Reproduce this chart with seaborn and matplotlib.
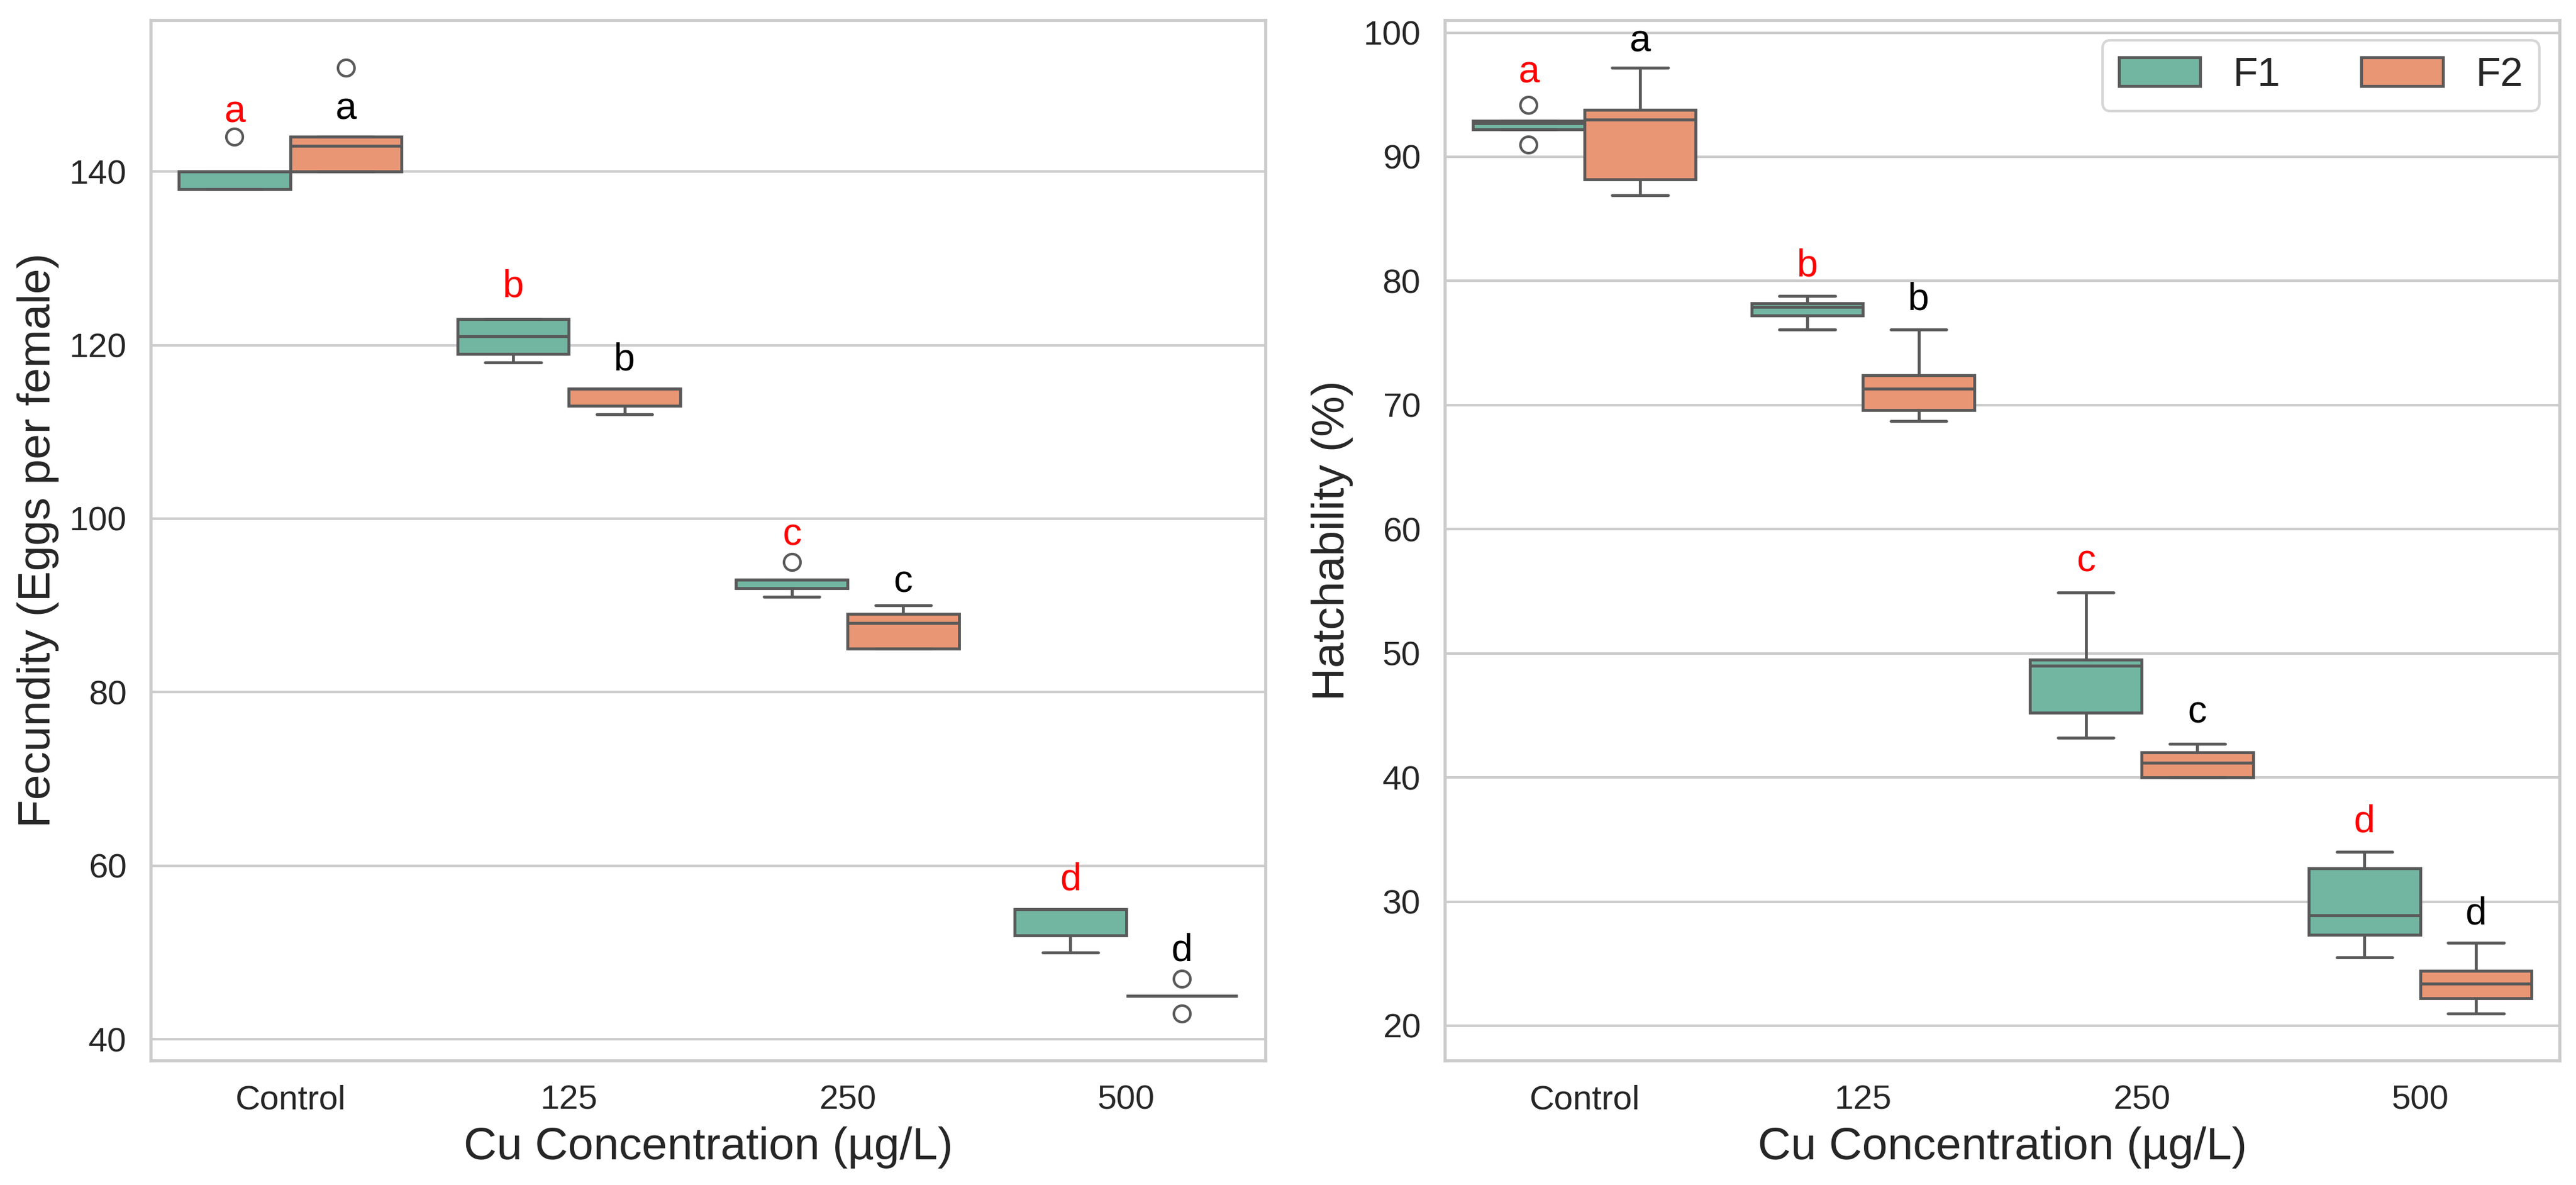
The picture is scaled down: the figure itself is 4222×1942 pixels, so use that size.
import numpy as np
import pandas as pd
import matplotlib
matplotlib.use("Agg")
import matplotlib.pyplot as plt
import seaborn as sns

# data (5 replicates per group)
concentrations = ["Control", "125", "250", "500"]
generations = ["F1", "F2"]

fecundity_f1 = [
    [138, 138, 140, 140, 144],
    [118, 119, 121, 123, 123],
    [91, 92, 93, 93, 95],
    [50, 52, 55, 55, 55],
]
fecundity_f2 = [
    [140, 140, 143, 144, 152],
    [112, 113, 115, 115, 115],
    [85, 85, 88, 89, 90],
    [43, 45, 45, 45, 47],
]

hatch_f1 = [
    [91.0, 92.2, 92.7, 92.9, 94.2],
    [76.1, 77.2, 77.9, 78.2, 78.8],
    [43.2, 45.2, 49.0, 49.5, 54.9],
    [25.5, 27.3, 28.9, 32.7, 34.0],
]
hatch_f2 = [
    [86.9, 88.2, 93.0, 93.8, 97.2],
    [68.7, 69.6, 71.3, 72.4, 76.1],
    [40.0, 40.0, 41.2, 42.0, 42.7],
    [21.0, 22.2, 23.4, 24.4, 26.7],
]

# significance letters and where they sit
letters = ["a", "b", "c", "d"]
fec_letter_y_f1 = [146.8, 126.7, 98.1, 58.4]
fec_letter_y_f2 = [147.2, 118.3, 92.7, 50.2]
hat_letter_y_f1 = [96.8, 81.2, 57.4, 36.4]
hat_letter_y_f2 = [99.3, 78.5, 45.2, 29.0]


def to_long(f1, f2, name):
    rows = []
    for gen, groups in zip(generations, [f1, f2]):
        for conc, vals in zip(concentrations, groups):
            for v in vals:
                rows.append({"Concentration": conc, "Generation": gen, name: v})
    return pd.DataFrame(rows)


fec_df = to_long(fecundity_f1, fecundity_f2, "Fecundity")
hat_df = to_long(hatch_f1, hatch_f2, "Hatchability")

sns.set_theme(style="whitegrid")
plt.rcParams["font.family"] = ["Liberation Sans", "DejaVu Sans"]

fig, axes = plt.subplots(1, 2, figsize=(4222 / 300, 1942 / 300), dpi=300)
fig.subplots_adjust(left=0.0586, right=0.9936, bottom=0.105, top=0.983, wspace=0.161)

panels = [
    (axes[0], fec_df, "Fecundity", "Fecundity (Eggs per female)", fec_letter_y_f1, fec_letter_y_f2),
    (axes[1], hat_df, "Hatchability", "Hatchability (%)", hat_letter_y_f1, hat_letter_y_f2),
]

for ax, df, col, ylab, ly1, ly2 in panels:
    sns.boxplot(data=df, x="Concentration", y=col, hue="Generation",
                order=concentrations, hue_order=generations,
                palette="Set2", ax=ax, linewidth=1.15, fliersize=6.5)
    for i in range(len(concentrations)):
        ax.text(i - 0.2, ly1[i], letters[i], color="red", fontsize=15,
                ha="center", va="center")
        ax.text(i + 0.2, ly2[i], letters[i], color="black", fontsize=15,
                ha="center", va="center")
    ax.set_xlabel("Cu Concentration (µg/L)", fontsize=18)
    ax.set_ylabel(ylab, fontsize=18)
    ax.tick_params(axis="both", labelsize=13.5)

axes[0].legend_.remove()
axes[1].legend(loc="upper right", ncol=2, fontsize=16)

plt.savefig("out.png", dpi=300)
